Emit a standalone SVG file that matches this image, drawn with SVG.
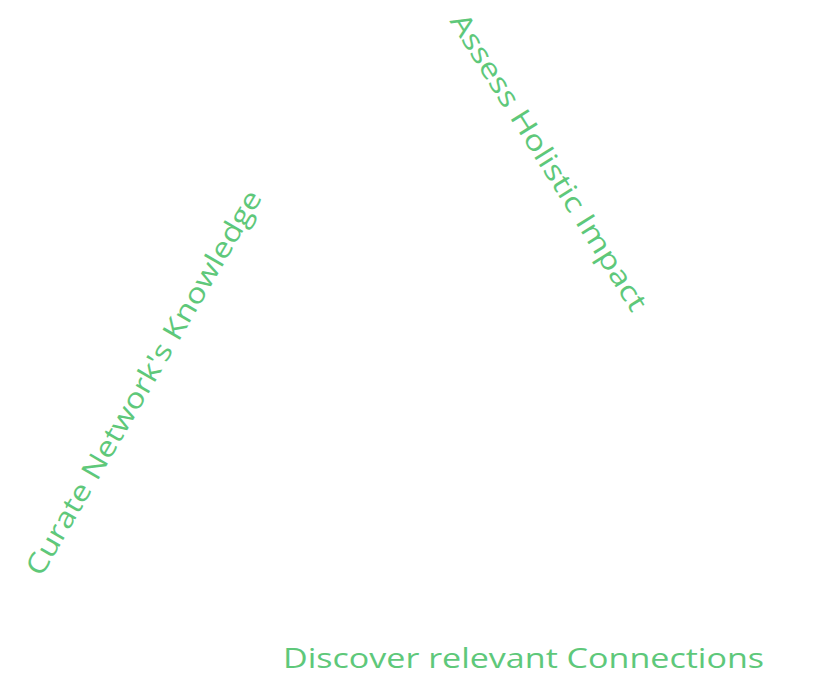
<svg xmlns="http://www.w3.org/2000/svg" width="822" height="693" viewBox="0 0 822 693">
<style>
.lbl{font-family:"Open Sans","Noto Sans",sans-serif;font-size:28px;fill:#5ec87a;text-anchor:middle;}
</style>
<rect width="822" height="693" fill="#ffffff"/>
<g id="assess">
<text class="lbl" transform="translate(540.6,167.2) rotate(58)" textLength="345" lengthAdjust="spacingAndGlyphs">Assess Holistic Impact</text>
</g>
<g id="curate">
<text class="lbl" transform="translate(152,387.5) rotate(-59.8)" textLength="440" lengthAdjust="spacingAndGlyphs">Curate Network's Knowledge</text>
</g>
<g id="discover">
<text class="lbl" x="523.5" y="668" textLength="481" lengthAdjust="spacingAndGlyphs">Discover relevant Connections</text>
</g>
<g id="connectors"/>
</svg>
